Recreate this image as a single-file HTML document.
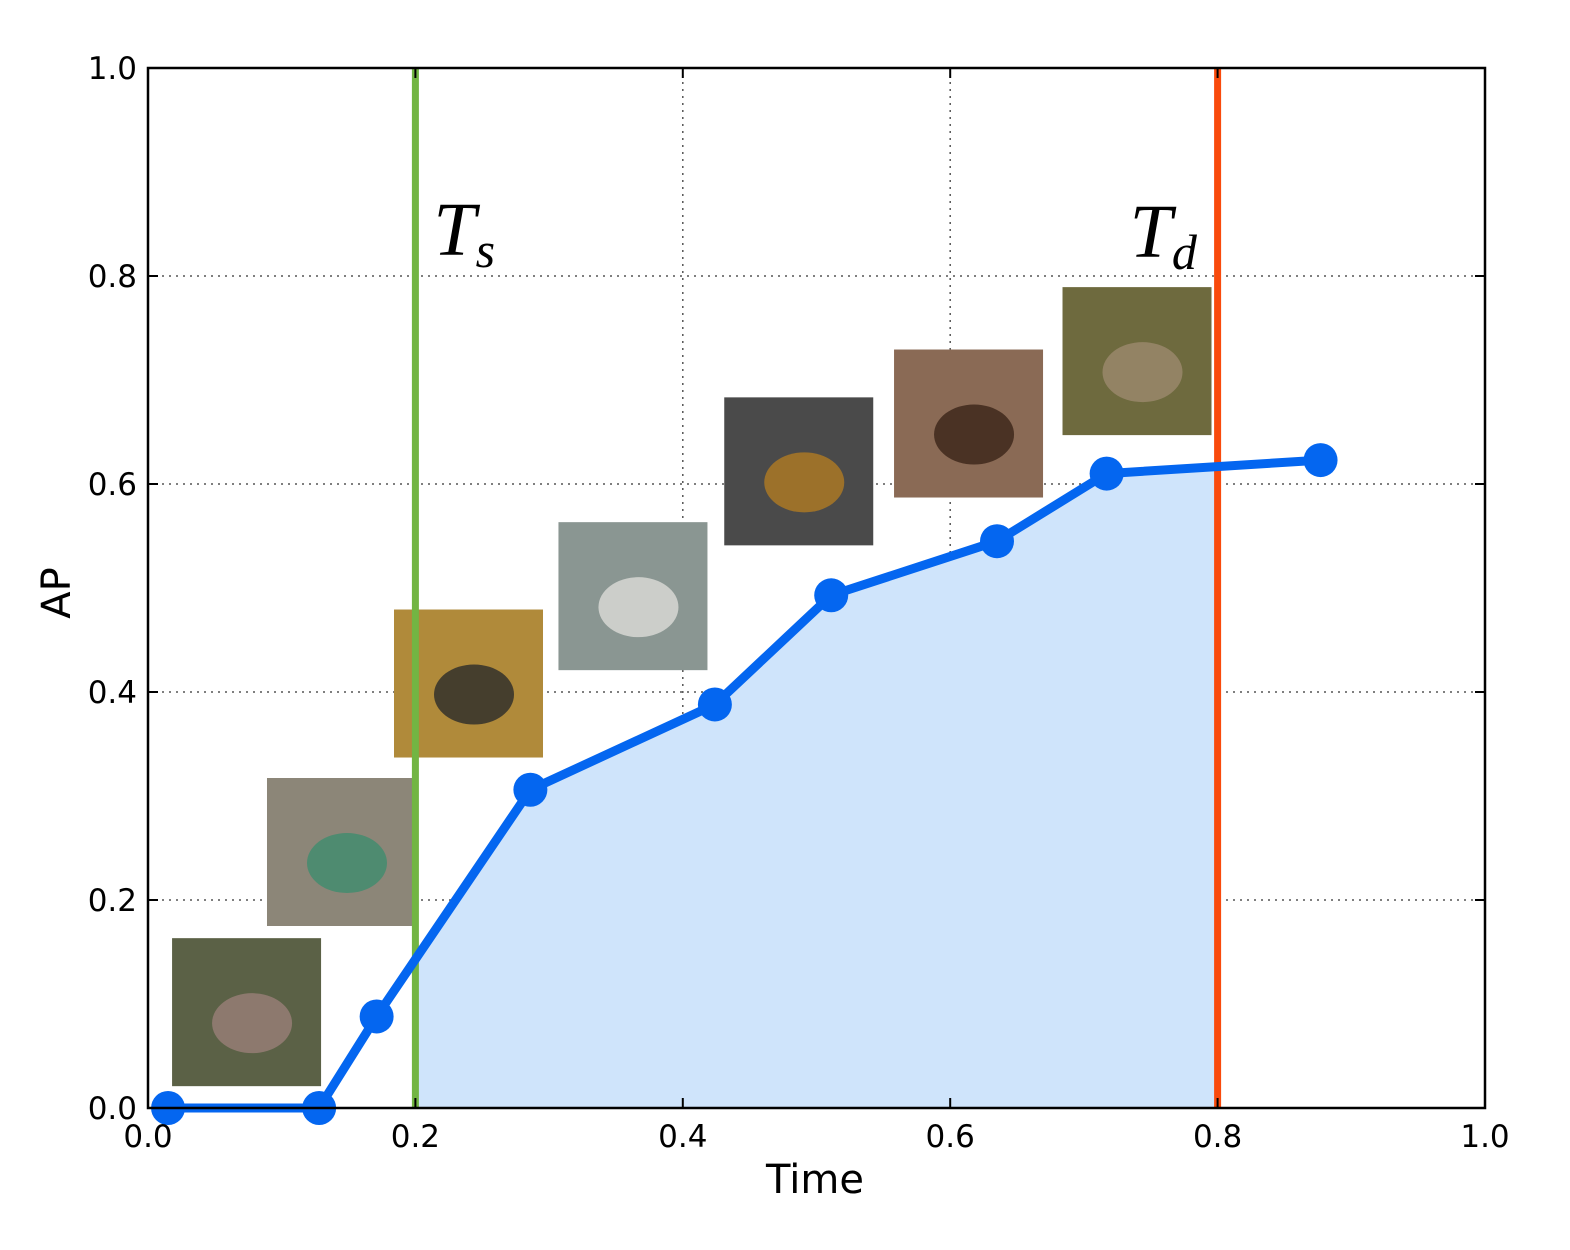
<!DOCTYPE html>
<html><head><meta charset="utf-8"><style>
body{margin:0;background:#fff;}
svg{display:block;font-family:"DejaVu Sans","Liberation Sans",sans-serif;}
</style></head><body>
<svg id="chart" width="1570" height="1250">
<g id="grid"></g>
<g id="fillg"></g>
<g id="imgs"></g>
<g id="vlines"></g>
<g id="series"></g>
<g id="axes"></g>
</svg>
<script>
const xVals=[0.015,0.128,0.171,0.286,0.424,0.511,0.635,0.717,0.877];
const apVals=[0.0,0.0,0.088,0.306,0.388,0.493,0.545,0.610,0.623];
const xTicks=[0,0.2,0.4,0.6,0.8,1.0];
const yTicks=[0,0.2,0.4,0.6,0.8,1.0];
const tickLabels=["0.0","0.2","0.4","0.6","0.8","1.0"];
const tS=0.2, tD=0.8;
const thumbs=[
 {name:"cow-thumbnail",x:0.018,y:0.021,c1:"#5b6146",c2:"#9a7f78"},
 {name:"cat-thumbnail",x:0.089,y:0.175,c1:"#8c8678",c2:"#3f8c6e"},
 {name:"bicycle-thumbnail",x:0.184,y:0.337,c1:"#b08a3a",c2:"#2a2a2a"},
 {name:"sailboat-thumbnail",x:0.307,y:0.421,c1:"#8a9692",c2:"#dcdcd8"},
 {name:"motorcycle-thumbnail",x:0.431,y:0.541,c1:"#4a4a4a",c2:"#b07a22"},
 {name:"beer-thumbnail",x:0.558,y:0.587,c1:"#8a6a55",c2:"#3a2418"},
 {name:"sheep-thumbnail",x:0.684,y:0.647,c1:"#6e6a3e",c2:"#9c8a6e"}
];
const NS="http://www.w3.org/2000/svg";
const L=148,R=1485,T=68,B=1108;
const sx=v=>L+(R-L)*v, sy=v=>B-(B-T)*v;
function mk(tag,attrs,parent,text){const e=document.createElementNS(NS,tag);for(const k in attrs)e.setAttribute(k,attrs[k]);if(text!==undefined)e.textContent=text;parent.appendChild(e);return e;}
const grid=document.getElementById('grid');
xTicks.forEach(v=>{const l=mk('line',{x1:sx(v),x2:sx(v),y1:T,y2:B,stroke:'#555','stroke-width':1.5,'stroke-dasharray':'2,5'},grid);

});
yTicks.forEach(v=>{const l=mk('line',{x1:L,x2:R,y1:sy(v),y2:sy(v),stroke:'#555','stroke-width':1.5,'stroke-dasharray':'2,5'},grid);

});
function interp(x){for(let i=0;i<xVals.length-1;i++){if(x>=xVals[i]&&x<=xVals[i+1]){const t=(x-xVals[i])/(xVals[i+1]-xVals[i]);return apVals[i]+t*(apVals[i+1]-apVals[i]);}}return apVals[apVals.length-1];}
let pts=[[tS,0],[tS,interp(tS)]];
xVals.forEach((x,i)=>{if(x>tS&&x<tD)pts.push([x,apVals[i]]);});
pts.push([tD,interp(tD)],[tD,0]);
const fp=mk('polygon',{points:pts.map(p=>sx(p[0])+','+sy(p[1])).join(' '),fill:'#cfe4fb'},document.getElementById('fillg'));


const ig=document.getElementById('imgs');
thumbs.forEach(t=>{const g=mk('g',{},ig);


const x0=sx(t.x),y0=sy(t.y)-148;
mk('rect',{x:x0,y:y0,width:149,height:148,fill:t.c1},g);
mk('ellipse',{cx:x0+80,cy:y0+85,rx:40,ry:30,fill:t.c2,opacity:0.8},g);});
const vg=document.getElementById('vlines');
const g1=mk('line',{x1:sx(tS),x2:sx(tS),y1:T,y2:B,stroke:'#72b543','stroke-width':7},vg);


const r1=mk('line',{x1:sx(tD),x2:sx(tD),y1:T,y2:B,stroke:'#f94a0c','stroke-width':7},vg);


const tsl=mk('text',{x:sx(tS)+18,y:255,'font-family':'"Liberation Serif",serif','font-style':'italic','font-size':76},vg);


tsl.innerHTML='T<tspan font-size="50" dy="12">s</tspan>';
const tdl=mk('text',{x:sx(tD)-88,y:257,'font-family':'"Liberation Serif",serif','font-style':'italic','font-size':76},vg);


tdl.innerHTML='T<tspan font-size="50" dy="12">d</tspan>';
const sg=document.getElementById('series');
const pl=mk('polyline',{points:xVals.map((x,i)=>sx(x)+','+sy(apVals[i])).join(' '),fill:'none',stroke:'#0466f0','stroke-width':9,'stroke-linejoin':'round'},sg);


xVals.forEach((x,i)=>{const c=mk('circle',{cx:sx(x),cy:sy(apVals[i]),r:17,fill:'#0466f0'},sg);

});
const ag=document.getElementById('axes');
const fr=mk('rect',{x:L,y:T,width:R-L,height:B-T,fill:'none',stroke:'#000','stroke-width':2.5},ag);


xTicks.forEach((v,i)=>{mk('line',{x1:sx(v),x2:sx(v),y1:B,y2:B-10,stroke:'#000','stroke-width':2},ag);mk('line',{x1:sx(v),x2:sx(v),y1:T,y2:T+10,stroke:'#000','stroke-width':2},ag);
const t=mk('text',{x:sx(v),y:1147,'font-size':31,'text-anchor':'middle'},ag,tickLabels[i]);

});
yTicks.forEach((v,i)=>{mk('line',{x1:L,x2:L+10,y1:sy(v),y2:sy(v),stroke:'#000','stroke-width':2},ag);mk('line',{x1:R,x2:R-10,y1:sy(v),y2:sy(v),stroke:'#000','stroke-width':2},ag);
const t=mk('text',{x:137,y:sy(v)+11,'font-size':31,'text-anchor':'end'},ag,tickLabels[i]);

});
const xt=mk('text',{x:815,y:1193,'font-size':40,'text-anchor':'middle'},ag,'Time');


const yt=mk('text',{x:70,y:593,'font-size':40,'text-anchor':'middle',transform:'rotate(-90 70 593)'},ag,'AP');


</script>
</body></html>
